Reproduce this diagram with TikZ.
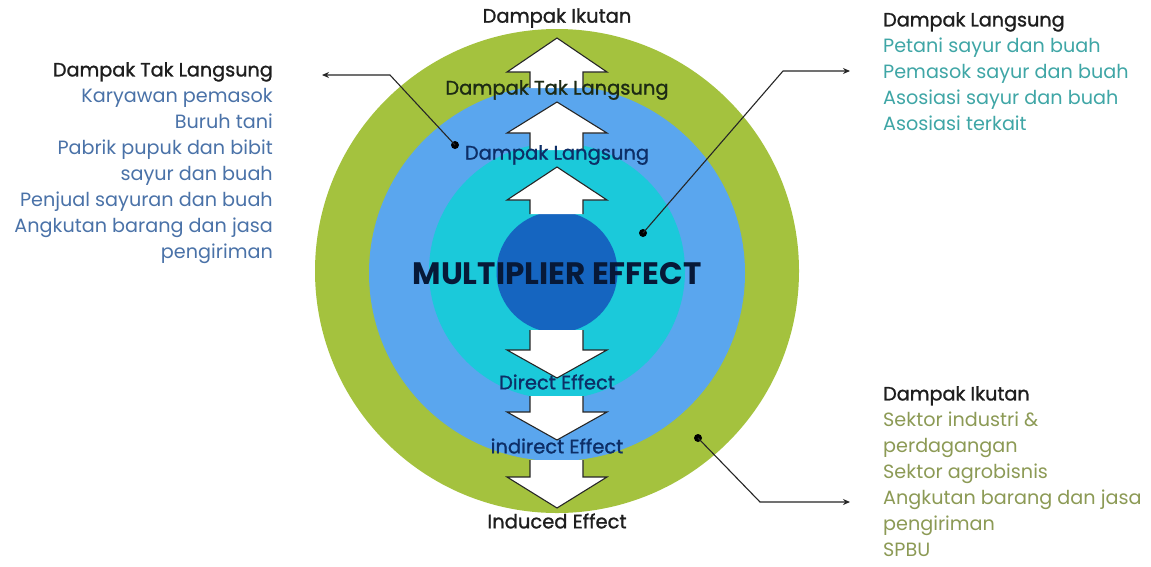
\documentclass[tikz,border=0pt]{standalone}
\usepackage{fontspec}
\setmainfont{Poppins}
\newfontfamily\hdfont{Poppins}[FakeBold=1.2]
\usetikzlibrary{arrows.meta}
\definecolor{cgreen}{HTML}{A4C23E}
\definecolor{cblue}{HTML}{5AA6EE}
\definecolor{ccyan}{HTML}{1BC9DA}
\definecolor{cdark}{HTML}{1565C0}
\definecolor{tleft}{HTML}{4A72A8}
\definecolor{tteal}{HTML}{3FA6A6}
\definecolor{tolive}{HTML}{8C9A55}
\definecolor{thead}{HTML}{1E1E1E}
\definecolor{tnavy}{HTML}{0D2E66}
\definecolor{tdkgreen}{HTML}{1C2A14}
\newcommand\upblock[3]{%
  \fill[white] (530,#3) -- (530,#2) -- (507,#2) -- (557,#1) -- (607,#2) -- (583,#2) -- (583,#3) -- cycle;
  \draw[arrline] (530,#3) -- (530,#2) -- (507,#2) -- (557,#1) -- (607,#2) -- (583,#2) -- (583,#3);}
\newcommand\downblock[3]{%
  \fill[white] (530,#3) -- (530,#2) -- (507,#2) -- (557,#1) -- (607,#2) -- (583,#2) -- (583,#3) -- cycle;
  \draw[arrline] (530,#3) -- (530,#2) -- (507,#2) -- (557,#1) -- (607,#2) -- (583,#2) -- (583,#3);}
\begin{document}
\begin{tikzpicture}[x=1pt,y=-1pt,
  ring/.style={circle,inner sep=0pt,draw=none},
  arrline/.style={draw=black!85,line width=1.1pt,line join=miter},
  mid/.style={font=\fontsize{19.5}{22}\hdfont,inner sep=0pt},
  block/.style={font=\fontsize{19.2}{26}\selectfont,inner sep=0pt},
  dotn/.style={circle,fill=black,inner sep=0pt,minimum size=8pt},
  conn/.style={draw=black!85,line width=1.1pt,-{Stealth[length=7pt,width=6pt]}}]
\useasboundingbox (0,0) rectangle (1151,566);
\fill[white] (0,0) rectangle (1151,566);
\node[ring,fill=cgreen,minimum size=484pt] (outer) at (557,271) {};
\node[ring,fill=cblue,minimum size=376pt] (blue) at (557,273) {};
\node[ring,fill=ccyan,minimum size=256pt] (cyan) at (557,271) {};
\node[ring,fill=cdark,minimum size=121pt] (core) at (557,272) {};
% arrows up
\upblock{38}{72}{88}
\upblock{102}{133}{150}
\upblock{167}{200}{214}
% arrows down
\downblock{378}{350}{330}
\downblock{440}{412}{396}
\downblock{508}{477}{460}
% center labels
\node[mid,text=thead] (l1) at (557,18) {Dampak Ikutan};
\node[mid,text=tdkgreen] (l2) at (557,90) {Dampak Tak Langsung};
\node[mid,text=tnavy] (l3) at (557,155) {Dampak Langsung};
\node[inner sep=0pt,font=\fontsize{31}{33}\selectfont\bfseries,text=tnavy!55!black] (me) at (557,274) {MULTIPLIER EFFECT};
\node[mid,text=tnavy] (l4) at (557,382) {Direct Effect};
\node[mid,text=tnavy] (l5) at (557,446) {indirect Effect};
\node[mid,text=thead] (l6) at (557,521) {Induced Effect};
% text blocks
\node[block,anchor=north east,align=right,text=tleft] (left) at (273,62) {{\hdfont\color{thead}Dampak Tak Langsung}\\
Karyawan pemasok\\ Buruh tani\\ Pabrik pupuk dan bibit\\ sayur dan buah\\ Penjual sayuran dan buah\\ Angkutan barang dan jasa\\ pengiriman};
\node[block,anchor=north west,align=left,text=tteal] (rtop) at (883,12) {{\hdfont\color{thead}Dampak Langsung}\\
Petani sayur dan buah\\ Pemasok sayur dan buah\\ Asosiasi sayur dan buah\\ Asosiasi terkait};
\node[block,anchor=north west,align=left,text=tolive] (rbot) at (883,386) {{\hdfont\color{thead}Dampak Ikutan}\\
Sektor industri \&\\ perdagangan\\ Sektor agrobisnis\\ Angkutan barang dan jasa\\ pengiriman\\ SPBU};
% connectors
\node[dotn] (d1) at (455,145) {};
\coordinate (c1) at (390,75);
\coordinate (e1) at (322,75);
\draw[conn] (d1.center) -- (c1) -- (e1);
\node[dotn] (d2) at (643,233) {};
\coordinate (c2) at (783,71);
\coordinate (e2) at (850,71);
\draw[conn] (d2.center) -- (c2) -- (e2);
\node[dotn] (d3) at (698,438) {};
\coordinate (c3) at (760,502);
\coordinate (e3) at (850,502);
\draw[conn] (d3.center) -- (c3) -- (e3);
\end{tikzpicture}
\end{document}
